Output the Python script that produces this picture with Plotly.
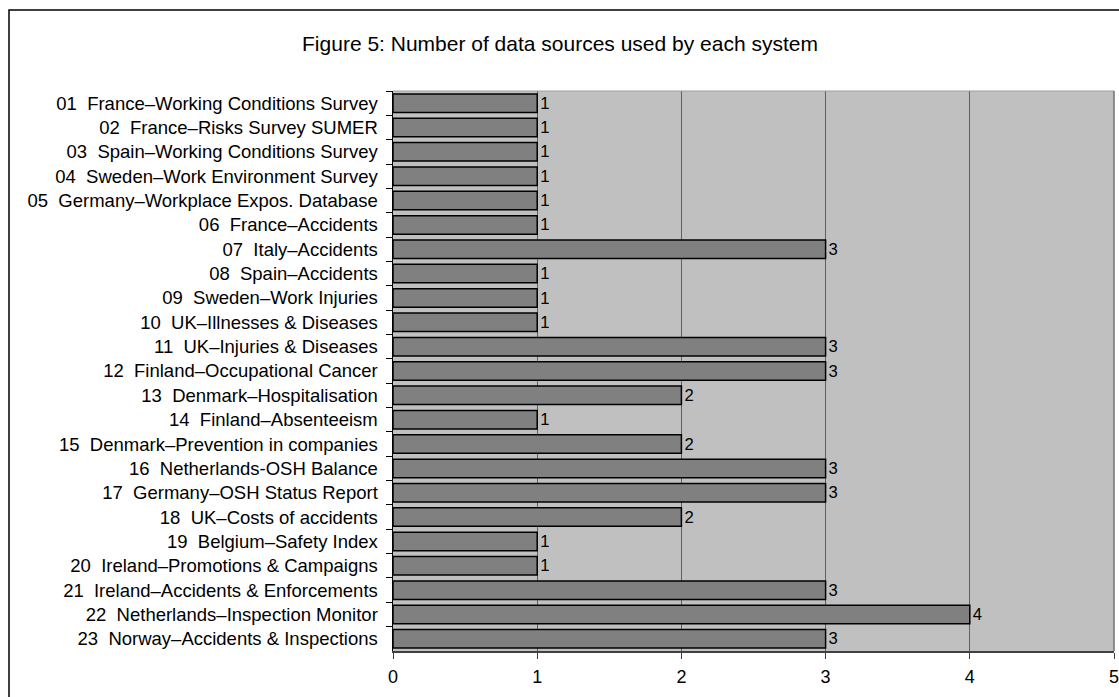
import plotly.graph_objects as go

labels = [
    "01  France–Working Conditions Survey",
    "02  France–Risks Survey SUMER",
    "03  Spain–Working Conditions Survey",
    "04  Sweden–Work Environment Survey",
    "05  Germany–Workplace Expos. Database",
    "06  France–Accidents",
    "07  Italy–Accidents",
    "08  Spain–Accidents",
    "09  Sweden–Work Injuries",
    "10  UK–Illnesses & Diseases",
    "11  UK–Injuries & Diseases",
    "12  Finland–Occupational Cancer",
    "13  Denmark–Hospitalisation",
    "14  Finland–Absenteeism",
    "15  Denmark–Prevention in companies",
    "16  Netherlands-OSH Balance",
    "17  Germany–OSH Status Report",
    "18  UK–Costs of accidents",
    "19  Belgium–Safety Index",
    "20  Ireland–Promotions & Campaigns",
    "21  Ireland–Accidents & Enforcements",
    "22  Netherlands–Inspection Monitor",
    "23  Norway–Accidents & Inspections",
]
values = [1, 1, 1, 1, 1, 1, 3, 1, 1, 1, 3, 3, 2, 1, 2, 3, 3, 2, 1, 1, 3, 4, 3]
x_ticks = [0, 1, 2, 3, 4, 5]

disp = [l.replace("  ", "\u00a0\u00a0") for l in labels]

FONT = "Liberation Sans, Arial"
fig = go.Figure(go.Bar(
    y=disp, x=values, orientation="h",
    marker=dict(color="#808080", line=dict(color="#000000", width=1.5)),
    text=[str(v) for v in values], textposition="outside",
    textfont=dict(family=FONT, size=18, color="#000000"),
    cliponaxis=False,
    hoverinfo="skip",
))

W, H = 1119, 697
L, R, T, B = 393, 5, 91, 46
pw, ph = W - L - R, H - T - B

fig.update_layout(
    width=W, height=H,
    margin=dict(l=L, r=R, t=T, b=B, pad=0, autoexpand=False),
    paper_bgcolor="white", plot_bgcolor="#C0C0C0",
    bargap=0.24,
    showlegend=False,
    font=dict(family=FONT, size=18, color="#000000"),
    title=dict(text="Figure 5: Number of data sources used by each system",
               x=560 / W, xref="container", xanchor="center",
               y=1 - 44 / H, yref="container", yanchor="middle",
               font=dict(size=21, color="#000000")),
    xaxis=dict(range=[0, 5], tickvals=x_ticks, ticktext=[str(t) for t in x_ticks],
               showgrid=True, gridcolor="#606060", gridwidth=1,
               showline=True, linecolor="#404040", linewidth=1.5,
               ticks="outside", ticklen=6, tickcolor="#404040",
               zeroline=False, tickfont=dict(size=18), ticklabelstandoff=3,
               ticklabeloverflow="allow", automargin=False),
    yaxis=dict(autorange="reversed", showline=True, linecolor="#000000", linewidth=1.5,
               ticks="outside", ticklen=6, tickcolor="#000000", tickson="boundaries",
               showgrid=False, tickfont=dict(size=18.5), ticklabelstandoff=10,
               automargin=False),
    shapes=[
        dict(type="rect", xref="paper", yref="paper",
             x0=(9 - L) / pw, x1=(W + 10 - L) / pw,
             y0=-(B + 10) / ph, y1=1 + (T - 10) / ph,
             line=dict(color="#000000", width=1.5), fillcolor="rgba(0,0,0,0)", layer="below"),
        dict(type="line", xref="paper", yref="paper", x0=0, x1=1, y0=1, y1=1,
             line=dict(color="#A0A0A0", width=1)),
        dict(type="line", xref="paper", yref="paper", x0=1, x1=1, y0=0, y1=1,
             line=dict(color="#707070", width=1.5)),
    ],
)

fig.write_html(
    "out.html",
    config={"displayModeBar": False, "staticPlot": True},
    post_script="document.body.style.margin='0';document.body.style.overflow='hidden';"
                "document.documentElement.style.overflow='hidden';",
)
